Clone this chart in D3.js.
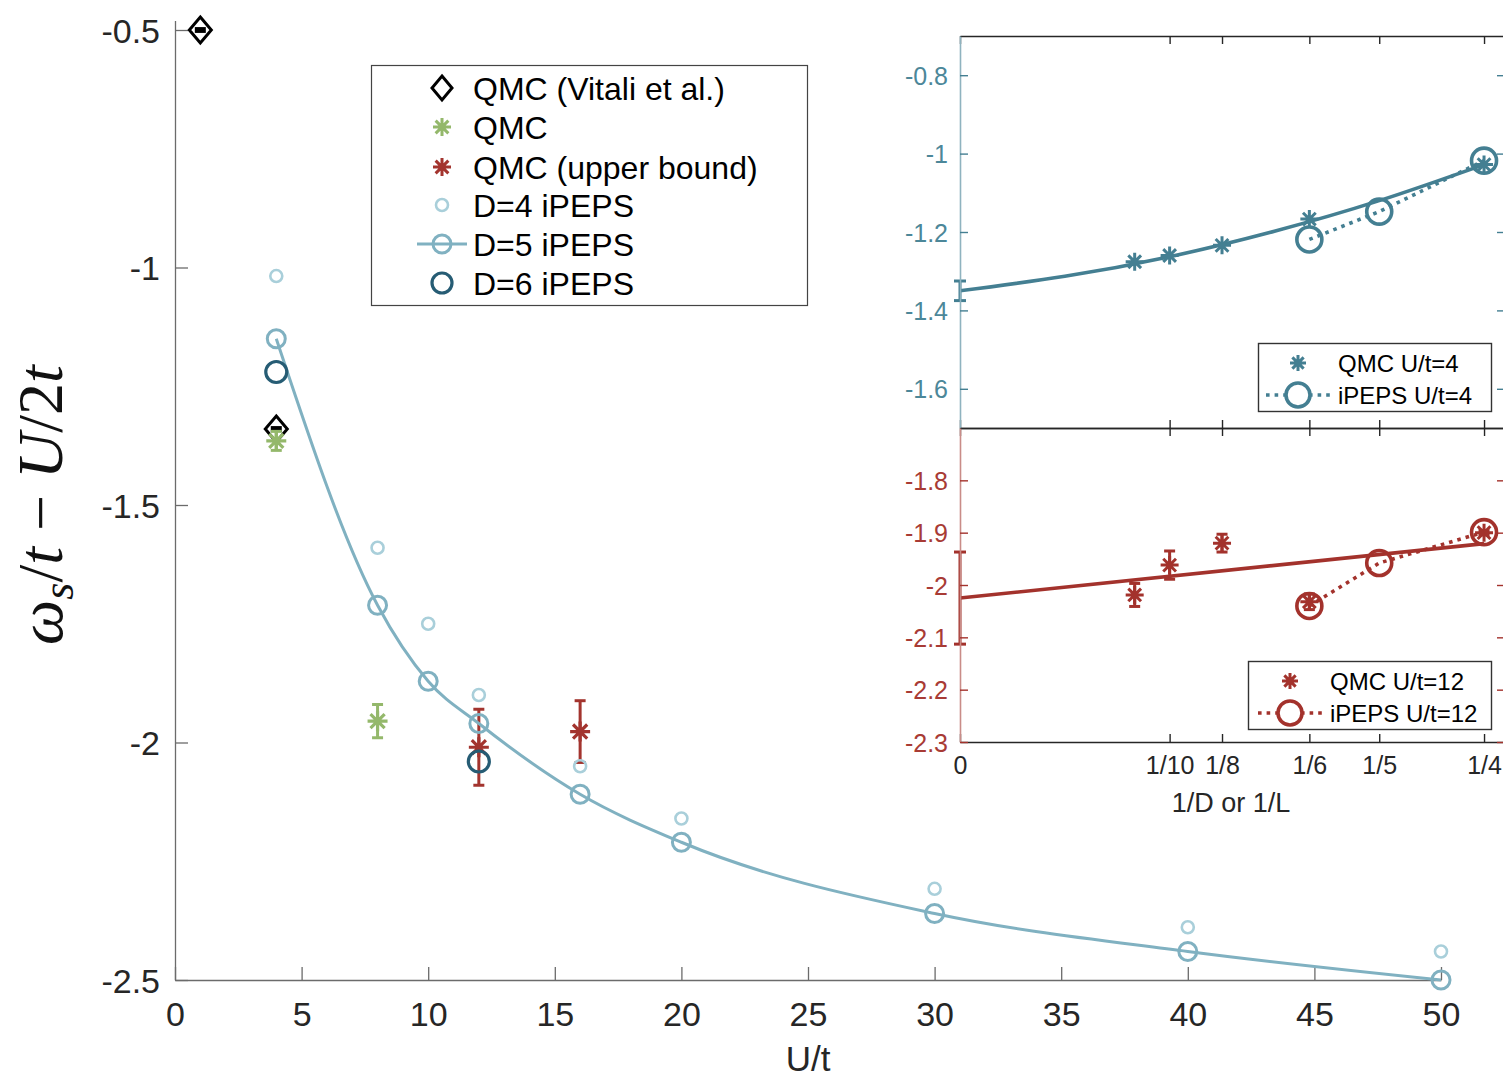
<!DOCTYPE html>
<html>
<head>
<meta charset="utf-8">
<script src="https://cdn.jsdelivr.net/npm/d3@7"></script>
<style>
  body { margin: 0; background: #fff; }
  svg { display: block; }
  text { font-family: "Liberation Sans", Arial, Helvetica, sans-serif; }
</style>
</head>
<body>
<svg id="chart" width="1503" height="1078"></svg>
<script>
// ---------------- main panel: spin gap vs U/t ----------------
const uVitali = [1, 4];
const wVitali = [-0.5, -1.34];
const eVitali = [0.003, 0.003];

const uQmc = [4, 8];
const wQmc = [-1.365, -1.955];
const eQmc = [0.02, 0.035];

const uUpper = [12, 16];
const wUpper = [-2.01, -1.977];
const eUpper = [0.08, 0.065];

const uIpeps = [4, 8, 10, 12, 16, 20, 30, 40, 50];
const wD4 = [-1.018, -1.59, -1.75, -1.90, -2.05, -2.16, -2.308, -2.389, -2.44];
const wD5 = [-1.15, -1.711, -1.871, -1.96, -2.109, -2.21, -2.36, -2.44, -2.5];
const uD6 = [4, 12];
const wD6 = [-1.22, -2.04];

const xTicksMain = [0, 5, 10, 15, 20, 25, 30, 35, 40, 45, 50];
const yTicksMain = [-2.5, -2, -1.5, -1, -0.5];

const legendMain = ["QMC (Vitali et al.)", "QMC", "QMC (upper bound)", "D=4 iPEPS", "D=5 iPEPS", "D=6 iPEPS"];

// ---------------- insets: finite-size / bond-dimension scaling ----------------
const invL = [1 / 12, 1 / 10, 1 / 8, 1 / 6, 1 / 4];
const invD = [1 / 6, 1 / 5, 1 / 4];

const qmcU4 = [-1.276, -1.26, -1.234, -1.167, -1.028];
const extrapU4 = -1.35, extrapU4Err = 0.025;
const fitU4X = [0, 0.05, 0.1, 0.15, 0.2, 0.25];
const fitU4Y = [-1.35, -1.313, -1.263, -1.198, -1.12, -1.028];
const ipepsU4 = [-1.219, -1.148, -1.018];

const qmcU12 = [-2.019, -1.962, -1.92, -2.032, -1.90];
const qmcU12Err = [0.022, 0.027, 0.017, 0.015, 0.004];
const extrapU12 = -2.025, extrapU12Err = 0.088;
const fitU12X = [0, 0.25];
const fitU12Y = [-2.025, -1.921];
const ipepsU12 = [-2.04, -1.958, -1.899];

const insetXTicks = [0, 1 / 10, 1 / 8, 1 / 6, 1 / 5, 1 / 4];
const insetXLabels = ["0", "1/10", "1/8", "1/6", "1/5", "1/4"];
const topYTicks = [-1.6, -1.4, -1.2, -1, -0.8];
const botYTicks = [-2.3, -2.2, -2.1, -2, -1.9, -1.8];

// ---------------- colours ----------------
const C = {
  axis: "#6b6b6b", text: "#262626",
  d4: "#a9cfda", d5: "#80b1c1", d6: "#265c74",
  green: "#94b86b", red: "#a3342e",
  teal: "#447f92", tealLabel: "#4c8799", tealSpine: "#8fb3bf",
  red2: "#a3322c", redLabel: "#a83b35", redSpine: "#c98c88"
};

const svg = d3.select("#chart");

// ---------------- marker helpers ----------------
function starPath(r) {
  const a = r * 0.7071;
  return `M${-r},0L${r},0M0,${-r}L0,${r}M${-a},${-a}L${a},${a}M${-a},${a}L${a},${-a}`;
}
function diamondPath(w, h) {
  return `M0,${-h}L${w},0L0,${h}L${-w},0Z`;
}
function errorBar(g, x, y0, y1, color, cap, sw) {
  g.append("line").attr("x1", x).attr("x2", x).attr("y1", y0).attr("y2", y1)
    .attr("stroke", color).attr("stroke-width", sw);
  [y0, y1].forEach(y => g.append("line")
    .attr("x1", x - cap / 2).attr("x2", x + cap / 2).attr("y1", y).attr("y2", y)
    .attr("stroke", color).attr("stroke-width", sw));
}

// ---------------- main axes ----------------
const x = d3.scaleLinear().domain([0, 50]).range([175, 1441]);
const y = d3.scaleLinear().domain([-2.5, -0.48]).range([980, 20.5]);

const gx = svg.append("g").attr("transform", "translate(0,980)")
  .call(d3.axisBottom(x).tickValues(xTicksMain).tickSizeInner(-13).tickSizeOuter(0).tickPadding(22)
    .tickFormat(d => String(d)));
const gy = svg.append("g").attr("transform", "translate(175,0)")
  .call(d3.axisLeft(y).tickValues(yTicksMain).tickSizeInner(-13).tickSizeOuter(0).tickPadding(15)
    .tickFormat(d => String(d)));
[gx, gy].forEach(g => {
  g.select(".domain").attr("stroke", C.axis).attr("stroke-width", 1.3);
  g.selectAll(".tick line").attr("stroke", C.axis).attr("stroke-width", 1.3);
  g.selectAll(".tick text").attr("fill", C.text).attr("font-size", 34)
    .attr("font-family", "'Liberation Sans', Arial, sans-serif");
});
gx.selectAll(".tick text").attr("dy", "0.71em");
gy.selectAll(".tick text").attr("dy", "0.36em");

svg.append("text").attr("x", 808).attr("y", 1071).attr("text-anchor", "middle")
  .attr("font-size", 35).attr("fill", C.text).text("U/t");

// y-axis label ω_s/t − U/2t
const yl = svg.append("text").attr("transform", "translate(62,505) rotate(-90)")
  .attr("text-anchor", "middle").attr("font-size", 64).attr("fill", "#111")
  .style("font-family", "'Liberation Serif', 'Times New Roman', serif");
yl.append("tspan").attr("font-style", "italic").text("ω");
yl.append("tspan").attr("font-style", "italic").attr("font-size", 44).attr("dy", 11).text("s");
yl.append("tspan").attr("dy", -11).text("/");
yl.append("tspan").attr("font-style", "italic").text("t");
yl.append("tspan").text(" − ");
yl.append("tspan").attr("font-style", "italic").text("U");
yl.append("tspan").text("/2");
yl.append("tspan").attr("font-style", "italic").text("t");

// ---------------- main data ----------------
const gm = svg.append("g");

// QMC (Vitali et al.)
uVitali.forEach((u, i) => {
  errorBar(gm, x(u), y(wVitali[i] + eVitali[i]), y(wVitali[i] - eVitali[i]), "#000", 11, 3);
  gm.append("path").attr("d", diamondPath(11, 13))
    .attr("transform", `translate(${x(u)},${y(wVitali[i])})`)
    .attr("fill", "none").attr("stroke", "#000").attr("stroke-width", 3);
});
// QMC
uQmc.forEach((u, i) => {
  errorBar(gm, x(u), y(wQmc[i] + eQmc[i]), y(wQmc[i] - eQmc[i]), C.green, 11, 3);
  gm.append("path").attr("d", starPath(10))
    .attr("transform", `translate(${x(u)},${y(wQmc[i])})`)
    .attr("stroke", C.green).attr("stroke-width", 3.2);
});
// QMC upper bound
uUpper.forEach((u, i) => {
  errorBar(gm, x(u), y(wUpper[i] + eUpper[i]), y(wUpper[i] - eUpper[i]), C.red, 11, 3);
  gm.append("path").attr("d", starPath(10))
    .attr("transform", `translate(${x(u)},${y(wUpper[i])})`)
    .attr("stroke", C.red).attr("stroke-width", 3.2);
});
// D=4
gm.selectAll("circle.d4").data(uIpeps).join("circle").attr("class", "d4")
  .attr("cx", d => x(d)).attr("cy", (d, i) => y(wD4[i])).attr("r", 6)
  .attr("fill", "none").attr("stroke", C.d4).attr("stroke-width", 2.6);
// D=5 curve + markers
gm.append("path")
  .datum(uIpeps.map((u, i) => [u, wD5[i]]))
  .attr("d", d3.line().x(d => x(d[0])).y(d => y(d[1])).curve(d3.curveMonotoneX))
  .attr("fill", "none").attr("stroke", C.d5).attr("stroke-width", 3);
gm.selectAll("circle.d5").data(uIpeps).join("circle").attr("class", "d5")
  .attr("cx", d => x(d)).attr("cy", (d, i) => y(wD5[i])).attr("r", 9)
  .attr("fill", "none").attr("stroke", C.d5).attr("stroke-width", 3);
// D=6
gm.selectAll("circle.d6").data(uD6).join("circle").attr("class", "d6")
  .attr("cx", d => x(d)).attr("cy", (d, i) => y(wD6[i])).attr("r", 10.5)
  .attr("fill", "none").attr("stroke", C.d6).attr("stroke-width", 3.2);

// ---------------- main legend ----------------
const lg = svg.append("g");
lg.append("rect").attr("x", 371.5).attr("y", 65.5).attr("width", 436).attr("height", 240)
  .attr("fill", "#fff").attr("stroke", "#444").attr("stroke-width", 1.2);
const rowY = [88, 127, 167, 205, 244, 283];
const mx = 442;
lg.append("path").attr("d", diamondPath(10, 12)).attr("transform", `translate(${mx},${rowY[0]})`)
  .attr("fill", "none").attr("stroke", "#000").attr("stroke-width", 3);
lg.append("path").attr("d", starPath(9)).attr("transform", `translate(${mx},${rowY[1]})`)
  .attr("stroke", C.green).attr("stroke-width", 3);
lg.append("path").attr("d", starPath(9)).attr("transform", `translate(${mx},${rowY[2]})`)
  .attr("stroke", C.red).attr("stroke-width", 3);
lg.append("circle").attr("cx", mx).attr("cy", rowY[3]).attr("r", 6)
  .attr("fill", "none").attr("stroke", C.d4).attr("stroke-width", 2.6);
lg.append("line").attr("x1", 417).attr("x2", 467).attr("y1", rowY[4]).attr("y2", rowY[4])
  .attr("stroke", C.d5).attr("stroke-width", 3);
lg.append("circle").attr("cx", mx).attr("cy", rowY[4]).attr("r", 9)
  .attr("fill", "none").attr("stroke", C.d5).attr("stroke-width", 3);
lg.append("circle").attr("cx", mx).attr("cy", rowY[5]).attr("r", 10)
  .attr("fill", "none").attr("stroke", C.d6).attr("stroke-width", 3.2);
legendMain.forEach((t, i) => lg.append("text").attr("x", 473).attr("y", rowY[i] + 11.5)
  .attr("font-size", 32).attr("fill", "#000").text(t));

// ---------------- insets ----------------
const xi = d3.scaleLinear().domain([0, 0.26]).range([960, 1505]);
const yTop = d3.scaleLinear().domain([-1.7, -0.7]).range([428, 36]);
const yBot = d3.scaleLinear().domain([-2.3, -1.7]).range([742, 428]);

svg.append("rect").attr("x", 960).attr("y", 36).attr("width", 545).attr("height", 706).attr("fill", "#fff");

function insetFrame(ys, ticks, spineCol, tickCol, labelCol, showX) {
  const g = svg.append("g");
  const [y0, y1] = ys.range();
  // top and bottom edges with inward x ticks
  const top = g.append("g").attr("transform", `translate(0,${y1})`)
    .call(d3.axisTop(xi).tickValues(insetXTicks).tickSizeInner(-8).tickSizeOuter(0).tickFormat(""));
  const bot = g.append("g").attr("transform", `translate(0,${y0})`)
    .call(d3.axisBottom(xi).tickValues(insetXTicks).tickSizeInner(-8).tickSizeOuter(0).tickPadding(14)
      .tickFormat((d, i) => showX ? insetXLabels[i] : ""));
  [top, bot].forEach(a => {
    a.select(".domain").attr("stroke", "#262626").attr("stroke-width", 1.4);
    a.selectAll(".tick line").attr("stroke", "#262626").attr("stroke-width", 1.4);
    a.selectAll(".tick text").attr("fill", "#262626").attr("font-size", 25)
      .attr("font-family", "'Liberation Sans', Arial, sans-serif").attr("dy", "0.71em");
  });
  // left axis, coloured
  const left = g.append("g").attr("transform", "translate(960,0)")
    .call(d3.axisLeft(ys).tickValues(ticks).tickSizeInner(-8).tickSizeOuter(0).tickPadding(12)
      .tickFormat(d => String(d)));
  left.select(".domain").attr("stroke", spineCol).attr("stroke-width", 1.6);
  left.selectAll(".tick line").attr("stroke", tickCol).attr("stroke-width", 1.4);
  left.selectAll(".tick text").attr("fill", labelCol).attr("font-size", 25)
    .attr("font-family", "'Liberation Sans', Arial, sans-serif").attr("dy", "0.36em");
  // right edge ticks
  const right = g.append("g").attr("transform", "translate(1505,0)")
    .call(d3.axisRight(ys).tickValues(ticks).tickSizeInner(-8).tickSizeOuter(0).tickFormat(""));
  right.select(".domain").attr("stroke", "#262626");
  right.selectAll(".tick line").attr("stroke", tickCol).attr("stroke-width", 1.4);
}

// --- U/t = 4 panel ---
const gt = svg.append("g");
gt.append("path").datum(fitU4X.map((v, i) => [v, fitU4Y[i]]))
  .attr("d", d3.line().x(d => xi(d[0])).y(d => yTop(d[1])).curve(d3.curveNatural))
  .attr("fill", "none").attr("stroke", C.teal).attr("stroke-width", 3.6);
errorBar(gt, xi(0), yTop(extrapU4 + extrapU4Err), yTop(extrapU4 - extrapU4Err), C.teal, 12, 3);
invL.forEach((v, i) => gt.append("path").attr("d", starPath(9))
  .attr("transform", `translate(${xi(v)},${yTop(qmcU4[i])})`)
  .attr("stroke", C.teal).attr("stroke-width", 3));
gt.append("path").datum(invD.map((v, i) => [v, ipepsU4[i]]))
  .attr("d", d3.line().x(d => xi(d[0])).y(d => yTop(d[1])))
  .attr("fill", "none").attr("stroke", C.teal).attr("stroke-width", 3.6).attr("stroke-dasharray", "3.6,5");
invD.forEach((v, i) => gt.append("circle").attr("cx", xi(v)).attr("cy", yTop(ipepsU4[i])).attr("r", 12.5)
  .attr("fill", "none").attr("stroke", C.teal).attr("stroke-width", 3.6));

// --- U/t = 12 panel ---
const gb = svg.append("g");
gb.append("path").datum(fitU12X.map((v, i) => [v, fitU12Y[i]]))
  .attr("d", d3.line().x(d => xi(d[0])).y(d => yBot(d[1])))
  .attr("fill", "none").attr("stroke", C.red2).attr("stroke-width", 3.6);
errorBar(gb, xi(0), yBot(extrapU12 + extrapU12Err), yBot(extrapU12 - extrapU12Err), C.red2, 12, 3);
invL.forEach((v, i) => {
  errorBar(gb, xi(v), yBot(qmcU12[i] + qmcU12Err[i]), yBot(qmcU12[i] - qmcU12Err[i]), C.red2, 11, 3);
  gb.append("path").attr("d", starPath(9))
    .attr("transform", `translate(${xi(v)},${yBot(qmcU12[i])})`)
    .attr("stroke", C.red2).attr("stroke-width", 3);
});
gb.append("path").datum(invD.map((v, i) => [v, ipepsU12[i]]))
  .attr("d", d3.line().x(d => xi(d[0])).y(d => yBot(d[1])))
  .attr("fill", "none").attr("stroke", C.red2).attr("stroke-width", 3.6).attr("stroke-dasharray", "3.6,5");
invD.forEach((v, i) => gb.append("circle").attr("cx", xi(v)).attr("cy", yBot(ipepsU12[i])).attr("r", 12.5)
  .attr("fill", "none").attr("stroke", C.red2).attr("stroke-width", 3.6));

insetFrame(yTop, topYTicks, C.tealSpine, C.teal, C.tealLabel, false);
insetFrame(yBot, botYTicks, C.redSpine, C.red2, C.redLabel, true);

svg.append("text").attr("x", 1231).attr("y", 812).attr("text-anchor", "middle")
  .attr("font-size", 27).attr("fill", C.text).text("1/D or 1/L");

// --- inset legends ---
function insetLegend(bx, by, bw, bh, mxL, textX, color, labels) {
  const g = svg.append("g");
  g.append("rect").attr("x", bx + 0.5).attr("y", by + 0.5).attr("width", bw).attr("height", bh)
    .attr("fill", "#fff").attr("stroke", "#333").attr("stroke-width", 1.4);
  const r1 = by + 20, r2 = by + 52;
  g.append("path").attr("d", starPath(8)).attr("transform", `translate(${mxL},${r1})`)
    .attr("stroke", color).attr("stroke-width", 3);
  g.append("line").attr("x1", mxL - 32).attr("x2", mxL + 32).attr("y1", r2).attr("y2", r2)
    .attr("stroke", color).attr("stroke-width", 3.6).attr("stroke-dasharray", "3.6,5");
  g.append("circle").attr("cx", mxL).attr("cy", r2).attr("r", 12)
    .attr("fill", "#fff").attr("stroke", color).attr("stroke-width", 3.6);
  g.append("text").attr("x", textX).attr("y", r1 + 9).attr("font-size", 24).attr("fill", "#000").text(labels[0]);
  g.append("text").attr("x", textX).attr("y", r2 + 9).attr("font-size", 24).attr("fill", "#000").text(labels[1]);
}
insetLegend(1258, 343, 233, 68, 1298, 1338, C.teal, ["QMC U/t=4", "iPEPS U/t=4"]);
insetLegend(1248, 661, 243, 68, 1290, 1330, C.red2, ["QMC U/t=12", "iPEPS U/t=12"]);
</script>
</body>
</html>
